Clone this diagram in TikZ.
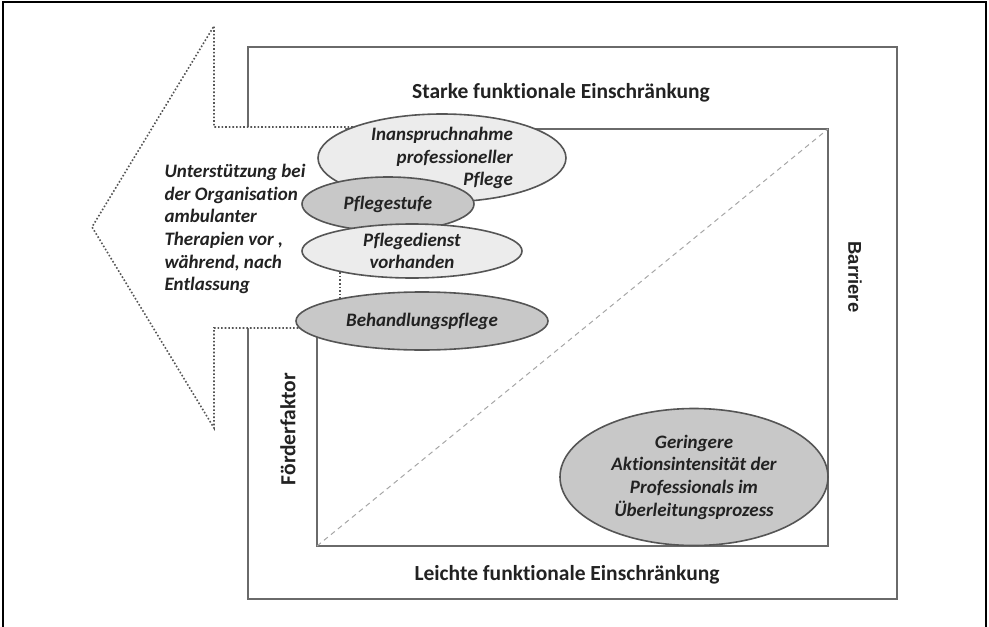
\documentclass[tikz,border=0pt]{standalone}
\usepackage{fontspec}
\setmainfont{Carlito}[Ligatures=NoCommon]
\newfontfamily\arialfont{Liberation Sans}
\usetikzlibrary{shapes.geometric}
\definecolor{lightfill}{HTML}{ECECEC}
\definecolor{darkfill}{HTML}{C8C8C8}
\definecolor{edge}{HTML}{555555}
\definecolor{rectline}{HTML}{6A6A6A}
\definecolor{txt}{HTML}{222222}
\tikzset{
  ell/.style={ellipse, draw=edge, line width=1.6pt, inner sep=0pt, text=txt,
    font=\fontsize{19}{22.7}\selectfont\bfseries\itshape, align=center},
  lightell/.style={ell, fill=lightfill},
  darkell/.style={ell, fill=darkfill},
  boxline/.style={draw=rectline, line width=1.5pt},
  dotline/.style={draw=edge, line width=1.6pt, dotted},
  title/.style={text=txt, font=\fontsize{21.5}{24}\selectfont\bfseries},
}
\begin{document}
\begin{tikzpicture}[x=1pt,y=-1pt]
\useasboundingbox (0,0) rectangle (989,627);
% page frame
\draw[line width=2pt, black] (3,627) -- (3,2) -- (986,2) -- (986,627);
% rectangles
\coordinate (oTL) at (248,47);
\coordinate (oBR) at (897,599);
\coordinate (iTL) at (317,129);
\coordinate (iBR) at (828,546);
\coordinate (iBL) at (317,546);
\coordinate (iTR) at (828,129);
\draw[boxline] (oTL) rectangle (oBR);
\draw[boxline] (iTL) rectangle (iBR);
\draw[draw=gray!70, line width=1pt, dashed, dash pattern=on 5pt off 4pt] (iBL) -- (iTR);
% arrow
\coordinate (aTop) at (214,26);
\coordinate (aTip) at (92,227);
\coordinate (aBot) at (214,428);
\coordinate (aUpIn) at (214,127);
\coordinate (aLoIn) at (214,328);
\coordinate (aUpEnd) at (360,127);
\coordinate (aLoEnd) at (310,328);
\fill[white] (aTop) -- (aTip) -- (aBot) -- (aLoIn) -- (345,328) -- (345,127) -- (aUpIn) -- cycle;
\draw[dotline] (aUpEnd) -- (aUpIn) -- (aTop) -- (aTip) -- (aBot) -- (aLoIn) -- (aLoEnd);
\coordinate (vTop) at (340,265);
\coordinate (vBot) at (340,305);
\draw[dotline] (vTop) -- (vBot);
% ellipses
\node[lightell, minimum width=248pt, minimum height=88pt, align=right] (e1) at (442,158)
  {Inanspruchnahme\\professioneller\\Pflege};
\node[darkell, minimum width=172pt, minimum height=54pt] (e2) at (388,204) {Pflegestufe};
\node[lightell, minimum width=220pt, minimum height=54pt] (e3) at (412,251) {Pflegedienst\\vorhanden};
\node[darkell, minimum width=252pt, minimum height=58pt] (e4) at (422,321) {Behandlungspflege};
\node[darkell, minimum width=268pt, minimum height=137pt] (e5) at (694,477)
  {Geringere\\Aktionsintensität der\\Professionals im\\Überleitungsprozess};
% texts
\node[text=txt, font=\fontsize{19}{22.7}\selectfont\bfseries\itshape, align=left, anchor=west] (lt) at (161,229)
  {Unterstützung bei\\der Organisation\\ambulanter\\Therapien vor ,\\während, nach\\Entlassung};
\node[title] (top) at (561,93) {Starke funktionale Einschränkung};
\node[title] (bot) at (567,575) {Leichte funktionale Einschränkung};
\node[title, rotate=90] (ff) at (288,429) {Förderfaktor};
\node[text=txt, font=\fontsize{18.5}{22}\selectfont\arialfont\bfseries, rotate=-90] (bar) at (855,277) {Barriere};
\end{tikzpicture}
\end{document}
